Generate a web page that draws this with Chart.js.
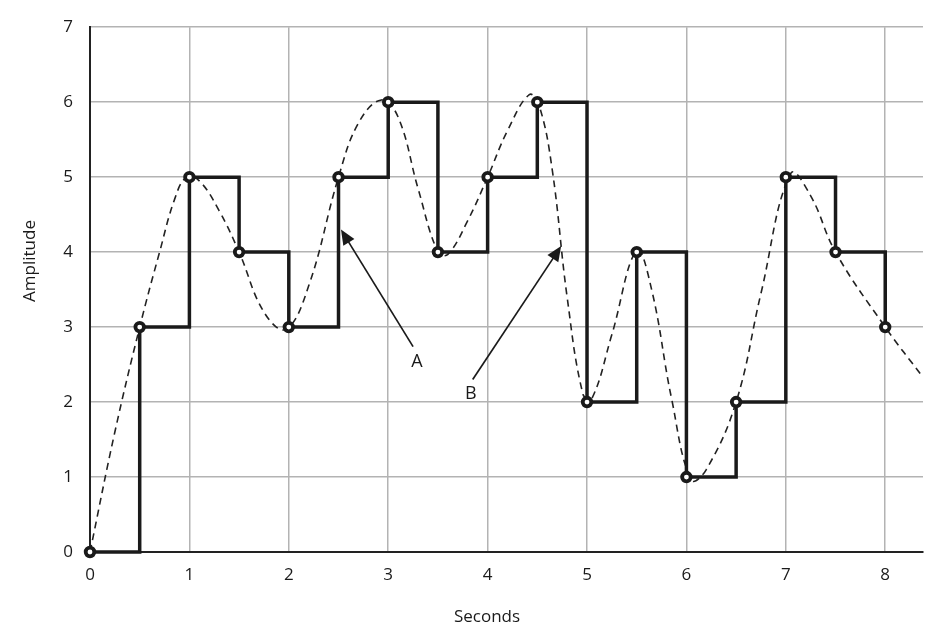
<!DOCTYPE html>
<html>
<head>
<meta charset="utf-8">
<script src="https://cdn.jsdelivr.net/npm/chart.js@4.4.1/dist/chart.umd.min.js"></script>
<style>
  html, body { margin: 0; padding: 0; background: #fff; }
  #wrap { width: 931px; height: 630px; }
</style>
</head>
<body>
<div id="wrap"><canvas id="chart"></canvas></div>
<script>
// sampled values, held until the next sample
const sampleTimes = [0, 0.5, 1, 1.5, 2, 2.5, 3, 3.5, 4, 4.5, 5, 5.5, 6, 6.5, 7, 7.5, 8];
const sampleValues = [0, 3, 5, 4, 3, 5, 6, 4, 5, 6, 2, 4, 1, 2, 5, 4, 3];

// dashed analog signal
const curveTimes = [0, 0.25, 0.5, 0.7, 0.85, 0.97, 1.1, 1.3, 1.5, 1.75, 1.97, 2.2, 2.5,
  2.7, 2.93, 3.1, 3.3, 3.5, 3.6, 3.8, 4.0, 4.2, 4.42, 4.52, 4.65, 4.8, 4.96, 5.05, 5.25, 5.5,
  5.65, 5.85, 6.05, 6.2, 6.5, 6.75, 7.05, 7.25, 7.5, 8.0, 8.38];
const curveValues = [0, 1.6, 3.0, 4.0, 4.7, 5.0, 4.95, 4.55, 4.0, 3.2, 2.97, 3.55, 5.0,
  5.72, 6.03, 5.8, 4.85, 4.0, 3.97, 4.42, 5.0, 5.62, 6.1, 5.95, 5.1, 3.4, 2.1, 2.05, 2.9, 4.02,
  3.5, 2.05, 0.96, 1.1, 2.0, 3.45, 5.05, 4.75, 4.0, 3.0, 2.33];

// axis ranges and labels
const xMax = 8.38;
const yTicks = [0, 1, 2, 3, 4, 5, 6, 7];
const xTitle = "Seconds";
const yTitle = "Amplitude";

// callouts: label, label spot, arrow tail, arrow tip (data units)
const calloutNames = ["A", "B"];
const calloutLabelAt = [[3.29, 2.54], [3.83, 2.11]];
const calloutTail = [[3.25, 2.74], [3.85, 2.3]];
const calloutTip = [[2.525, 4.3], [4.74, 4.08]];

const ink = "#1a1a1a";
const fontFamily = "'Open Sans', 'Noto Sans', sans-serif";

// draws axis titles and the A / B arrows
const annotate = {
  id: "annotate",
  afterDatasetsDraw(chart) {
    const ctx = chart.ctx;
    const sx = chart.scales.x;
    const sy = chart.scales.y;

    ctx.save();
    ctx.fillStyle = "#1a1a1a";
    ctx.font = "17px " + fontFamily;
    ctx.textAlign = "center";
    ctx.textBaseline = "middle";
    ctx.fillText(xTitle, 487, 617);

    ctx.save();
    ctx.translate(30, 261);
    ctx.rotate(-Math.PI / 2);
    ctx.fillText(yTitle, 0, 0);
    ctx.restore();

    calloutNames.forEach((name, i) => {
      const tx = sx.getPixelForValue(calloutTail[i][0]);
      const ty = sy.getPixelForValue(calloutTail[i][1]);
      const hx = sx.getPixelForValue(calloutTip[i][0]);
      const hy = sy.getPixelForValue(calloutTip[i][1]);
      const ang = Math.atan2(hy - ty, hx - tx);
      const len = 15, half = 6.5;

      ctx.strokeStyle = ink;
      ctx.lineWidth = 1.7;
      ctx.beginPath();
      ctx.moveTo(tx, ty);
      ctx.lineTo(hx - Math.cos(ang) * len * 0.8, hy - Math.sin(ang) * len * 0.8);
      ctx.stroke();

      ctx.fillStyle = ink;
      ctx.beginPath();
      ctx.moveTo(hx, hy);
      ctx.lineTo(hx - Math.cos(ang) * len - Math.sin(ang) * half, hy - Math.sin(ang) * len + Math.cos(ang) * half);
      ctx.lineTo(hx - Math.cos(ang) * len + Math.sin(ang) * half, hy - Math.sin(ang) * len - Math.cos(ang) * half);
      ctx.closePath();
      ctx.fill();

      ctx.fillStyle = "#1a1a1a";
      ctx.font = "18px " + fontFamily;
      ctx.fillText(name, sx.getPixelForValue(calloutLabelAt[i][0]), sy.getPixelForValue(calloutLabelAt[i][1]));
    });
    ctx.restore();
  }
};

new Chart(document.getElementById("chart"), {
  type: "line",
  data: {
    datasets: [
      {
        label: "Sampled",
        data: sampleTimes.map((t, i) => ({ x: t, y: sampleValues[i] })),
        stepped: true,
        clip: 10,
        borderColor: ink,
        borderWidth: 3.5,
        pointRadius: 4.3,
        pointBorderWidth: 3.8,
        pointBackgroundColor: "#fff",
        pointBorderColor: ink,
        fill: false
      },
      {
        label: "Signal",
        data: curveTimes.map((t, i) => ({ x: t, y: curveValues[i] })),
        borderColor: "#222",
        borderWidth: 1.6,
        borderDash: [7, 5],
        pointRadius: 0,
        tension: 0.4,
        fill: false
      }
    ]
  },
  options: {
    responsive: true,
    maintainAspectRatio: false,
    animation: false,
    layout: {
      autoPadding: false,
      padding: { top: 15, right: 8, left: 0, bottom: 0 }
    },
    plugins: {
      legend: { display: false },
      tooltip: { enabled: false }
    },
    scales: {
      x: {
        type: "linear",
        min: 0,
        max: xMax,
        afterFit: scale => { scale.height = 78; },
        grid: { color: "#b3b3b3", lineWidth: 1.5, drawTicks: false },
        border: { color: "#222", width: 2 },
        ticks: {
          stepSize: 1,
          includeBounds: false,
          padding: 13,
          color: "#1a1a1a",
          font: { family: fontFamily, size: 17 }
        }
      },
      y: {
        min: 0,
        max: yTicks[yTicks.length - 1],
        afterFit: scale => { scale.width = 90; },
        grid: { color: "#b3b3b3", lineWidth: 1.5, drawTicks: false },
        border: { color: "#222", width: 2 },
        ticks: {
          stepSize: 1,
          padding: 17,
          color: "#1a1a1a",
          font: { family: fontFamily, size: 17 }
        }
      }
    }
  },
  plugins: [annotate]
});
</script>
</body>
</html>
